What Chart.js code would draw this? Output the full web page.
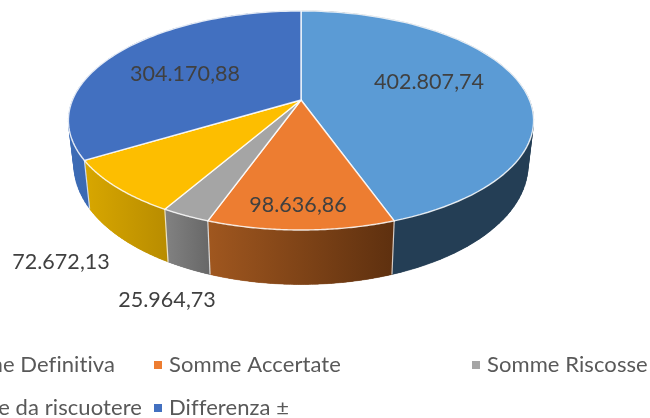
<!DOCTYPE html>
<html><head><meta charset="utf-8">
<style>html,body{margin:0;padding:0;background:#fff;overflow:hidden}canvas{display:block}</style>
<script src="https://cdn.jsdelivr.net/npm/chart.js@4"></script>
</head><body>
<canvas id="c" width="650" height="418"></canvas>
<script>
const categories = ["Somme Definitiva","Somme Accertate","Somme Riscosse","Somme da riscuotere","Differenza ±"];
const values = [402807.74, 98636.86, 25964.73, 72672.13, 304170.88];
const topColors = ["#5B9BD5","#ED7D31","#A5A5A5","#FDBE00","#4270C0"];
const wallLeft = ["#243E55","#A0571F","#828282","#D8A700","#3C6BB5"];
const wallRight = ["#243E55","#5E300F","#676767","#B88C00","#2F5A9C"];

const labelAnchors = [[429,82],[298,205],[167,300],[61,262],[185,74]];
const legendSlots = [[115,365,"right"],[169,365,"left"],[487,365,"left"],[142,408,"right"],[169,408,"left"]];
const markerX = [null,154,472,null,154];
const P = -0.187;
const fmt = v => { const [i,d] = v.toFixed(2).split("."); return i.replace(/\B(?=(\d{3})+$)/g,".") + "," + d; };

const pie3d = {
  id:"pie3d",
  beforeDatasetsDraw(chart){
    const ctx = chart.ctx, arcs = chart.getDatasetMeta(0).data;
    const top = (a,cx,cy,R)=>{ const t=a+Math.PI/2,u=Math.sin(t),v=-Math.cos(t),d=1+P*v;
      return [cx+2.285*R*u/d, cy+1.057*R*v/d]; };
    const bot = (a,cx,cy,R)=>{ const t=a+Math.PI/2,u=Math.sin(t),v=-Math.cos(t),d=1+P*v;
      return [cx+2.23*R*u/d, cy+0.43*R+1.15*R*v/d]; };
    const samples = (arc,f)=>{ const pts=[],n=80;
      for(let i=0;i<=n;i++) pts.push(f(arc.startAngle+(arc.endAngle-arc.startAngle)*i/n,arc.x,arc.y,arc.outerRadius));
      return pts; };
    ctx.save();
    arcs.forEach((arc,i)=>{
      const T=samples(arc,top),B=samples(arc,bot);
      const xs=T.concat(B).map(p=>p[0]);
      const lo=Math.min(...xs),hi=Math.max(...xs);
      const g=ctx.createLinearGradient(lo,0,hi,0);
      g.addColorStop(0,wallLeft[i]);g.addColorStop(1,wallRight[i]);
      ctx.fillStyle=g;ctx.strokeStyle=g;ctx.lineWidth=0.5;
      // strips first, for the outline where the wall turns out of sight
      for(let k=0;k<T.length-1;k++){
        ctx.beginPath();
        ctx.moveTo(T[k][0],T[k][1]);ctx.lineTo(T[k+1][0],T[k+1][1]);
        ctx.lineTo(B[k+1][0],B[k+1][1]);ctx.lineTo(B[k][0],B[k][1]);ctx.closePath();
        ctx.fill();ctx.stroke();
      }
      // one closed wall on top, so the strips leave no seams
      ctx.beginPath();
      T.forEach((p,k)=>k?ctx.lineTo(p[0],p[1]):ctx.moveTo(p[0],p[1]));
      for(let k=B.length-1;k>=0;k--) ctx.lineTo(B[k][0],B[k][1]);
      ctx.closePath();
      ctx.fill();
    });
    arcs.forEach((arc,i)=>{
      const a=top(arc.startAngle,arc.x,arc.y,arc.outerRadius),b=bot(arc.startAngle,arc.x,arc.y,arc.outerRadius);
      ctx.beginPath();ctx.moveTo(a[0],a[1]);ctx.lineTo(b[0],b[1]);
      ctx.strokeStyle="rgba(255,255,255,.75)";ctx.lineWidth=1.2;ctx.stroke();
    });
    arcs.forEach((arc,i)=>{
      ctx.beginPath();ctx.moveTo(arc.x,arc.y);
      samples(arc,top).forEach(p=>ctx.lineTo(p[0],p[1]));
      ctx.closePath();
      ctx.fillStyle=topColors[i];ctx.fill();
      ctx.strokeStyle="rgba(255,255,255,.85)";ctx.lineWidth=1.4;ctx.lineJoin="round";ctx.stroke();
    });
    ctx.restore();
    return false;
  },
  afterDraw(chart){
    const ctx=chart.ctx;
    ctx.save();
    ctx.textBaseline="middle";
    ctx.textAlign="center";
    ctx.fillStyle="#404040";
    ctx.font="21.5px Lato";
    ctx.letterSpacing="0.05px";
    values.forEach((v,i)=>ctx.fillText(fmt(v),labelAnchors[i][0],labelAnchors[i][1]));
    ctx.font="22px Lato";
    ctx.letterSpacing="0.08px";
    categories.forEach((c,i)=>{
      const [x,y,al]=legendSlots[i];
      ctx.textAlign=al;ctx.fillStyle="#595959";
      ctx.fillText(c,x,y);
      if(markerX[i]!==null){ctx.fillStyle=topColors[i];ctx.fillRect(markerX[i],y-4,8,8);}
    });
    ctx.restore();
  }
};

new Chart(document.getElementById("c"),{
  type:"pie",
  data:{labels:categories,datasets:[{data:values,backgroundColor:topColors,borderWidth:0}]},
  options:{
    responsive:false,animation:false,
    layout:{padding:{left:0,right:48,top:0,bottom:218}},
    plugins:{legend:{display:false},tooltip:{enabled:false},title:{display:false}}
  },
  plugins:[pie3d]
});
</script>
</body></html>
